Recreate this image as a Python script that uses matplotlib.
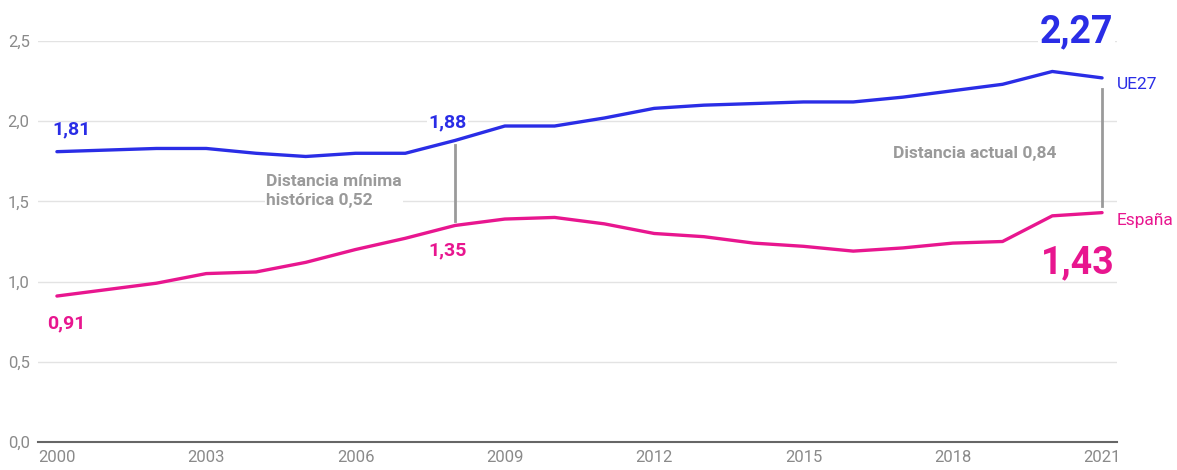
import matplotlib.pyplot as plt

plt.rcParams['font.family'] = ['Roboto', 'DejaVu Sans']

years = list(range(2000, 2022))
ue27 = [1.81, 1.82, 1.83, 1.83, 1.80, 1.78, 1.80, 1.80, 1.88, 1.97, 1.97,
        2.02, 2.08, 2.10, 2.11, 2.12, 2.12, 2.15, 2.19, 2.23, 2.31, 2.27]
espana = [0.91, 0.95, 0.99, 1.05, 1.06, 1.12, 1.20, 1.27, 1.35, 1.39, 1.40,
          1.36, 1.30, 1.28, 1.24, 1.22, 1.19, 1.21, 1.24, 1.25, 1.41, 1.43]
yticks = [0, 0.5, 1.0, 1.5, 2.0, 2.5]
xticks = [2000, 2003, 2006, 2009, 2012, 2015, 2018, 2021]

blue = '#2a2de6'
pink = '#e8168f'
grey = '#9a9a9a'

fig = plt.figure(figsize=(11.77, 4.70), dpi=100)
ax = fig.add_axes([38 / 1177, 28 / 470, 1079 / 1177, 401 / 470])

ax.plot(years, ue27, color=blue, lw=2.4, solid_capstyle='round', zorder=3)
ax.plot(years, espana, color=pink, lw=2.4, solid_capstyle='round', zorder=3)

ax.set_xlim(1999.62, 2021.30)
ax.set_ylim(0, 2.5)
ax.set_yticks(yticks)
ax.set_yticklabels([f'{v:.1f}'.replace('.', ',') for v in yticks])
ax.set_xticks(xticks)
ax.set_xticklabels([str(x) for x in xticks])
ax.tick_params(axis='both', length=0, colors='#8a8a8a', labelsize=12)
ax.tick_params(axis='y', pad=6)
ax.tick_params(axis='x', pad=6)
ax.grid(axis='y', color='#e3e3e3', lw=1)
ax.set_axisbelow(True)
for s in ['top', 'right', 'left']:
    ax.spines[s].set_visible(False)
ax.spines['bottom'].set_color('#666666')
ax.spines['bottom'].set_linewidth(1.5)

def fmt(v):
    return f'{v:.2f}'.replace('.', ',')

# point labels
ax.text(years[0] - 0.1, 1.92, fmt(ue27[0]), color=blue, fontsize=14,
        fontweight='bold', ha='left', va='baseline', clip_on=False)
ax.text(years[0] - 0.2, 0.71, fmt(espana[0]), color=pink, fontsize=14,
        fontweight='bold', ha='left', va='baseline', clip_on=False)
ax.text(years[8] - 0.15, 1.958, fmt(ue27[8]), color=blue, fontsize=14,
        fontweight='bold', ha='center', va='baseline',
        bbox=dict(facecolor='white', edgecolor='none', pad=1))
ax.text(years[8] - 0.15, 1.166, fmt(espana[8]), color=pink, fontsize=14,
        fontweight='bold', ha='center', va='baseline')
ax.text(years[-1] + 0.22, 2.494, fmt(ue27[-1]), color=blue, fontsize=27,
        fontweight='bold', ha='right', va='baseline', clip_on=False,
        bbox=dict(facecolor='white', edgecolor='none', pad=1))
ax.text(years[-1] + 0.26, 1.054, fmt(espana[-1]), color=pink, fontsize=27,
        fontweight='bold', ha='right', va='baseline', clip_on=False)

# series labels
ax.text(years[-1] + 0.3, ue27[-1] - 0.04, 'UE27', color=blue, fontsize=12.5,
        ha='left', va='center', clip_on=False)
ax.text(years[-1] + 0.3, espana[-1] - 0.05, 'España', color=pink, fontsize=12.5,
        ha='left', va='center', clip_on=False)

# distance markers
ax.plot([2008, 2008], [1.38, 1.85], color=grey, lw=2, zorder=2)
ax.plot([2021, 2021], [1.47, 2.2], color=grey, lw=2, zorder=2)
ax.text(2004.2, 1.565, 'Distancia mínima\nhistórica 0,52', color=grey, fontsize=12.5,
        fontweight='bold', ha='left', va='center', linespacing=1.3,
        bbox=dict(facecolor='white', edgecolor='none', pad=1))
ax.text(2016.8, 1.80, 'Distancia actual 0,84', color=grey, fontsize=12.5,
        fontweight='bold', ha='left', va='center')

fig.savefig('out.png', dpi=100)
